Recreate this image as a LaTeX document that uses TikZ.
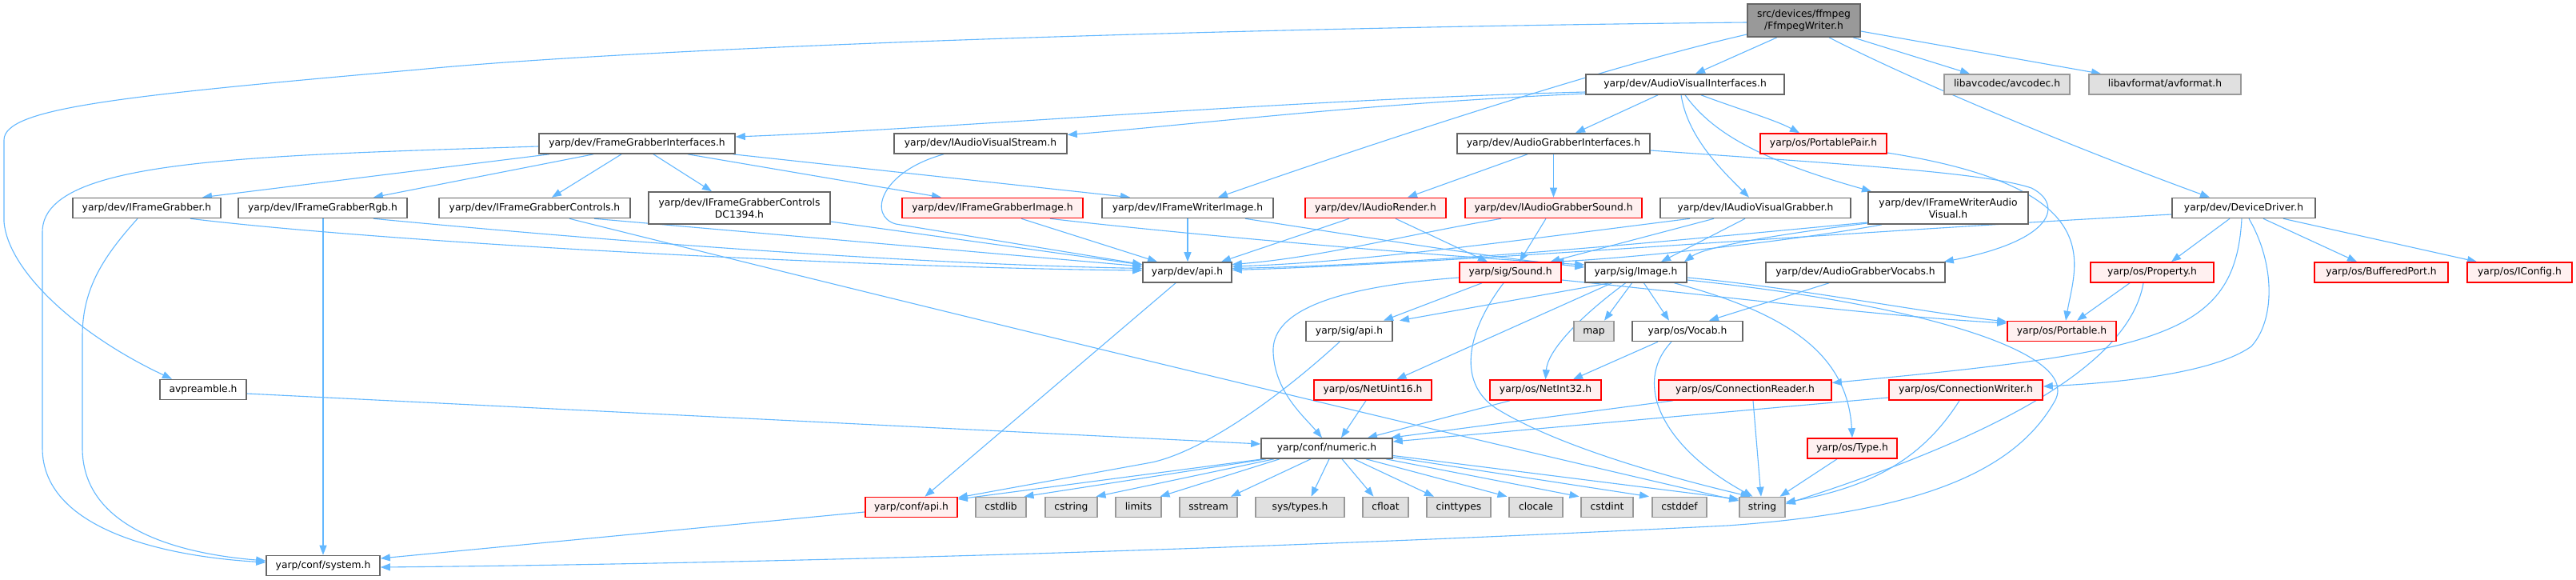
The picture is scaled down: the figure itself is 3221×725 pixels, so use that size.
\documentclass[tikz,border=0pt]{standalone}
\usepackage{fontspec}
\setmainfont{DejaVu Sans}
\usetikzlibrary{arrows.meta,calc}
\definecolor{edgec}{HTML}{63B8FF}
\definecolor{nborder}{HTML}{666666}
\definecolor{rborder}{HTML}{FF0000}
\definecolor{rfill}{HTML}{FFF0F0}
\definecolor{gfill}{HTML}{E0E0E0}
\definecolor{gborder}{HTML}{999999}
\definecolor{rootfill}{HTML}{999999}
\pgfdeclarelayer{back}
\pgfdeclarelayer{edges}
\pgfsetlayers{back,edges,main}
\begin{document}
\begin{tikzpicture}[x=1pt,y=-1pt,
 base2/.style={rectangle, inner sep=0pt, minimum height=25pt, font=\fontsize{12.3}{15}\selectfont, align=center, line width=1.6pt},
 base/.style={base2, text height=9.3pt, text depth=2.7pt},
 nw/.style={base, draw=nborder, fill=white},
 nw2/.style={base2, draw=nborder, fill=white, minimum height=40pt},
 nr/.style={base, draw=rborder, fill=rfill},
 ng/.style={base, draw=gborder, fill=gfill},
 nroot/.style={base2, draw=nborder, fill=rootfill, minimum height=41pt},
 edg/.style={draw=edgec, line width=1.1pt, -{Triangle[length=12pt,width=9pt]}}]
\useasboundingbox (0,0) rectangle (3221,725);
\begin{pgfonlayer}{back}
\fill[white] (0,0) rectangle (3221,725);
\end{pgfonlayer}
% nodes
\node[nroot, minimum width=141pt] (root) at (2255.5,25.5) {src/devices/ffmpeg\\/FfmpegWriter.h};
\node[nw, minimum width=248pt] (avi) at (2107,105.5) {yarp/dev/AudioVisualInterfaces.h};
\node[ng, minimum width=157pt] (avcodec) at (2509.5,105.5) {libavcodec/avcodec.h};
\node[ng, minimum width=190pt] (avformat) at (2707,105.5) {libavformat/avformat.h};
\node[nw, minimum width=245pt] (fgi) at (796.5,179.5) {yarp/dev/FrameGrabberInterfaces.h};
\node[nw, minimum width=216pt] (iavs) at (1226,179.5) {yarp/dev/IAudioVisualStream.h};
\node[nw, minimum width=241pt] (agi) at (1942.5,179.5) {yarp/dev/AudioGrabberInterfaces.h};
\node[nr, minimum width=158pt] (ppair) at (2280,179.5) {yarp/os/PortablePair.h};
\node[nw, minimum width=185pt] (ifg) at (183.5,260) {yarp/dev/IFrameGrabber.h};
\node[nw, minimum width=211pt] (ifgrgb) at (403.5,260) {yarp/dev/IFrameGrabberRgb.h};
\node[nw, minimum width=239pt] (ifgc) at (668.5,260) {yarp/dev/IFrameGrabberControls.h};
\node[nw2, minimum width=227pt] (ifgcdc) at (924.5,260) {yarp/dev/IFrameGrabberControls\\DC1394.h};
\node[nr, minimum width=226pt] (ifgimg) at (1241,260) {yarp/dev/IFrameGrabberImage.h};
\node[nw, minimum width=214pt] (ifwimg) at (1485,260) {yarp/dev/IFrameWriterImage.h};
\node[nr, minimum width=176pt] (iar) at (1720,260) {yarp/dev/IAudioRender.h};
\node[nr, minimum width=221pt] (iags) at (1942.5,260) {yarp/dev/IAudioGrabberSound.h};
\node[nw, minimum width=238pt] (iavg) at (2195,260) {yarp/dev/IAudioVisualGrabber.h};
\node[nw2, minimum width=200pt] (ifwav) at (2436,260) {yarp/dev/IFrameWriterAudio\\Visual.h};
\node[nw, minimum width=179pt] (dd) at (2805.5,260) {yarp/dev/DeviceDriver.h};
\node[nw, minimum width=111pt] (devapi) at (1484.5,340.5) {yarp/dev/api.h};
\node[nr, minimum width=127pt] (sound) at (1888.5,340.5) {yarp/sig/Sound.h};
\node[nw, minimum width=127pt] (image) at (2045.5,340.5) {yarp/sig/Image.h};
\node[nw, minimum width=224pt] (agv) at (2320,340.5) {yarp/dev/AudioGrabberVocabs.h};
\node[nr, minimum width=154pt] (prop) at (2691,340.5) {yarp/os/Property.h};
\node[nr, minimum width=167pt] (bport) at (2977.5,340.5) {yarp/os/BufferedPort.h};
\node[nr, minimum width=131pt] (iconfig) at (3150.5,340.5) {yarp/os/IConfig.h};
\node[nw, minimum width=108pt] (sigapi) at (1687,414) {yarp/sig/api.h};
\node[ng, minimum width=50pt] (map) at (1993,414) {map};
\node[nw, minimum width=138pt] (vocab) at (2110,414) {yarp/os/Vocab.h};
\node[nr, minimum width=136pt] (portable) at (2578,414) {yarp/os/Portable.h};
\node[nw, minimum width=108pt] (avpre) at (254,487) {avpreamble.h};
\node[nr, minimum width=147pt] (nuint16) at (1716.5,487.5) {yarp/os/NetUint16.h};
\node[nr, minimum width=139pt] (nint32) at (1932.5,487.5) {yarp/os/NetInt32.h};
\node[nr, minimum width=216pt] (creader) at (2182,487.5) {yarp/os/ConnectionReader.h};
\node[nr, minimum width=192pt] (cwriter) at (2458,487.5) {yarp/os/ConnectionWriter.h};
\node[nw, minimum width=164pt] (numeric) at (1659,560.5) {yarp/conf/numeric.h};
\node[nr, minimum width=112pt] (type) at (2316,560.5) {yarp/os/Type.h};
\node[nr, minimum width=115pt] (confapi) at (1139.5,634) {yarp/conf/api.h};
\node[ng, minimum width=63pt] (cstdlib) at (1251.5,634) {cstdlib};
\node[ng, minimum width=65pt] (cstring) at (1339.5,634) {cstring};
\node[ng, minimum width=57pt] (limits) at (1423.5,634) {limits};
\node[ng, minimum width=72pt] (sstream) at (1511,634) {sstream};
\node[ng, minimum width=111pt] (systypes) at (1625.5,634) {sys/types.h};
\node[ng, minimum width=57pt] (cfloat) at (1732.5,634) {cfloat};
\node[ng, minimum width=80pt] (cinttypes) at (1824,634) {cinttypes};
\node[ng, minimum width=67pt] (clocale) at (1920.5,634) {clocale};
\node[ng, minimum width=65pt] (cstdint) at (2009.5,634) {cstdint};
\node[ng, minimum width=68pt] (cstddef) at (2100,634) {cstddef};
\node[ng, minimum width=57pt] (string) at (2203.5,634) {string};
\node[nw, minimum width=142pt] (system) at (404,707) {yarp/conf/system.h};
% edges
\begin{pgfonlayer}{edges}
% root
\draw[edg] ([yshift=-2.5pt]root.west) .. controls (1500,35) and (800,60) .. (523,87) .. controls (150,120) and (5,135) .. (5,175) -- (5,277) .. controls (10,340) and (100,420) .. ([xshift=-39pt]avpre.north);
\draw[edg] ([yshift=-17.5pt]root.west) .. controls (2000,85) and (1700,185) .. ([xshift=38pt]ifwimg.north);
\draw[edg] ([xshift=-33.5pt]root.south) -- ([xshift=13pt]avi.north);
\draw[edg] ([xshift=61.5pt]root.south) -- ([xshift=-46.5pt]avcodec.north);
\draw[edg] ([yshift=-13.5pt]root.east) -- ([xshift=-80pt]avformat.north);
\draw[edg] ([xshift=31.5pt]root.south) .. controls (2380,95) and (2580,180) .. ([xshift=-42.5pt]dd.north);
% AudioVisualInterfaces
\draw[edg] ([yshift=-9.5pt]avi.west) .. controls (1600,125) and (1200,160) .. ([yshift=8.5pt]fgi.east);
\draw[edg] ([yshift=-11.5pt]avi.west) .. controls (1700,130) and (1500,155) .. ([yshift=11pt]iavs.east);
\draw[edg] ([xshift=-34pt]avi.south) -- ([xshift=27.5pt]agi.north);
\draw[edg] ([xshift=20pt]avi.south) .. controls (2170,135) and (2220,150) .. ([xshift=-30pt]ppair.north);
\draw[edg] ([xshift=-5pt]avi.south) .. controls (2110,170) and (2150,210) .. ([xshift=-8pt]iavg.north);
\draw[edg] (avi.south) .. controls (2140,165) and (2200,200) .. ([xshift=-96pt]ifwav.north);
% FrameGrabberInterfaces
\draw[edg] ([yshift=-3.5pt]fgi.west) .. controls (300,195) and (53,200) .. (53,290) -- (53,560) .. controls (53,660) and (200,695) .. ([yshift=4pt]system.west);
\draw[edg] ([xshift=-109.5pt]fgi.south) -- ([xshift=69.5pt]ifg.north);
\draw[edg] ([xshift=-54.5pt]fgi.south) -- ([xshift=63.5pt]ifgrgb.north);
\draw[edg] ([xshift=-19.5pt]fgi.south) -- ([xshift=21.5pt]ifgc.north);
\draw[edg] ([xshift=20.5pt]fgi.south) -- ([xshift=-34.5pt]ifgcdc.north);
\draw[edg] ([xshift=63.5pt]fgi.south) -- ([xshift=-64pt]ifgimg.north);
\draw[edg] ([xshift=120pt]fgi.south) -- ([xshift=-72pt]ifwimg.north);
% second row
\draw[edg] ([xshift=-46pt]iavs.south) .. controls (1100,215) and (1085,270) .. (1120,280) -- ([yshift=10pt]devapi.west);
\draw[edg] ([xshift=-11.5pt]ifg.south) .. controls (130,320) and (103,360) .. (103,420) -- (103,560) .. controls (103,650) and (200,690) .. ([yshift=6pt]system.west);
\draw[edg] ([xshift=54.5pt]ifg.south) .. controls (500,305) and (1100,335) .. ([yshift=2.5pt]devapi.west);
\draw[edg] ([xshift=0.5pt]ifgrgb.south) -- (system.north);
\draw[edg] ([xshift=63.5pt]ifgrgb.south) .. controls (800,305) and (1150,330) .. ([yshift=5pt]devapi.west);
\draw[edg] ([xshift=74.5pt]ifgc.south) -- ([yshift=7.5pt]devapi.west);
\draw[edg] ([xshift=43.5pt]ifgc.south) .. controls (1200,395) and (1800,540) .. ([yshift=8pt]string.west);
\draw[edg] ([yshift=-17pt]ifgcdc.east) -- ([yshift=9.5pt]devapi.west);
\draw[edg] ([xshift=36pt]ifgimg.south) -- ([xshift=-37.5pt]devapi.north);
\draw[edg] ([xshift=72pt]ifgimg.south) .. controls (1500,295) and (1800,320) .. ([yshift=9.5pt]image.west);
\draw[edg] (ifwimg.south) -- ([xshift=0.5pt]devapi.north);
\draw[edg] ([xshift=72pt]ifwimg.south) .. controls (1700,295) and (1850,320) .. ([yshift=6.5pt]image.west);
\draw[edg] ([xshift=-33pt]iar.south) -- ([xshift=42.5pt]devapi.north);
\draw[edg] ([xshift=25pt]iar.south) -- ([xshift=-28.5pt]sound.north);
\draw[edg] ([xshift=-65.5pt]iags.south) .. controls (1750,295) and (1650,322) .. ([yshift=10pt]devapi.east);
\draw[edg] ([xshift=-9.5pt]iags.south) -- ([xshift=11.5pt]sound.north);
\draw[edg] ([xshift=-82pt]iavg.south) .. controls (1900,300) and (1700,328) .. ([yshift=7.5pt]devapi.east);
\draw[edg] ([xshift=-13pt]iavg.south) -- ([xshift=31.5pt]image.north);
\draw[edg] ([xshift=-52pt]iavg.south) -- ([xshift=50pt]sound.north);
\draw[edg] ([yshift=-18pt]ifwav.west) .. controls (2100,300) and (1800,330) .. ([yshift=5pt]devapi.east);
\draw[edg] ([yshift=-19pt]ifwav.west) .. controls (2200,296) and (2130,310) .. ([xshift=60.5pt]image.north);
\draw[edg] ([xshift=-83pt]ifwav.south) .. controls (2250,300) and (2050,322) .. ([xshift=55pt]sound.north);
\draw[edg] ([yshift=-8pt]dd.west) .. controls (2300,290) and (1800,330) .. ([yshift=3pt]devapi.east);
% AudioGrabberInterfaces, PortablePair, AudioGrabberVocabs
\draw[edg] ([xshift=-32.5pt]agi.south) -- ([xshift=40pt]iar.north);
\draw[edg] (agi.south) -- (iags.north);
\draw[edg] ([yshift=-8.5pt]agi.east) .. controls (2300,205) and (2480,215) .. (2540,235) .. controls (2580,255) and (2570,300) .. ([xshift=-2pt]agv.north east);
\draw[edg] ([yshift=-11.5pt]ppair.east) .. controls (2640,235) and (2595,330) .. ([xshift=5pt]portable.north);
\draw[edg] ([xshift=-33pt]agv.south) -- ([xshift=27pt]vocab.north);
% Sound
\draw[edg] ([xshift=-35.5pt]sound.south) -- ([xshift=43pt]sigapi.north);
\draw[edg] ([yshift=-6.5pt]sound.west) .. controls (1650,360) and (1590,395) .. (1592,440) .. controls (1594,490) and (1630,520) .. ([xshift=-6pt]numeric.north);
\draw[edg] ([xshift=-8.5pt]sound.south) .. controls (1830,420) and (1825,480) .. (1870,510) .. controls (1950,560) and (2100,600) .. ([xshift=-15pt]string.north);
\draw[edg] ([yshift=-9.5pt]sound.east) .. controls (2150,370) and (2350,395) .. ([yshift=10pt]portable.west);
% Image
\draw[edg] ([xshift=-33pt]image.south) -- ([xshift=63pt]sigapi.north);
\draw[edg] ([xshift=-30pt]image.south) -- ([xshift=30pt]nuint16.north);
\draw[edg] ([xshift=-13pt]image.south) .. controls (1970,400) and (1935,440) .. (nint32.north);
\draw[edg] ([xshift=-5pt]image.south) -- ([xshift=13pt]map.north);
\draw[edg] ([xshift=10pt]image.south) -- ([xshift=-23pt]vocab.north);
\draw[edg] ([xshift=48pt]image.south) .. controls (2230,390) and (2310,440) .. (type.north);
\draw[edg] ([yshift=-6.5pt]image.east) .. controls (2250,360) and (2400,390) .. ([yshift=12pt]portable.west);
\draw[edg] ([yshift=-9.5pt]image.east) .. controls (2400,380) and (2600,440) .. (2570,500) .. controls (2520,590) and (2400,640) .. (2160,657) .. controls (1500,690) and (900,705) .. ([yshift=-2pt]system.east);
% Vocab, sig/api
\draw[edg] ([xshift=-37pt]vocab.south) -- ([xshift=34.5pt]nint32.north);
\draw[edg] ([xshift=-20pt]vocab.south) .. controls (2040,480) and (2080,560) .. ([xshift=-12pt]string.north);
\draw[edg] ([xshift=-12pt]sigapi.south) .. controls (1590,505) and (1500,565) .. (1440,578) -- ([yshift=12pt]confapi.east);
% numeric
\draw[edg] ([xshift=-80pt]numeric.south) -- ([yshift=10pt]confapi.east);
\draw[edg] ([xshift=-76pt]numeric.south) -- ([xshift=29pt]cstdlib.north);
\draw[edg] ([xshift=-66pt]numeric.south) -- ([xshift=31pt]cstring.north);
\draw[edg] ([xshift=-59pt]numeric.south) -- ([xshift=27pt]limits.north);
\draw[edg] ([xshift=-20pt]numeric.south) -- ([xshift=28pt]sstream.north);
\draw[edg] ([xshift=3pt]numeric.south) -- ([xshift=14pt]systypes.north);
\draw[edg] ([xshift=19pt]numeric.south) -- ([xshift=-15pt]cfloat.north);
\draw[edg] ([xshift=34pt]numeric.south) -- ([xshift=-31pt]cinttypes.north);
\draw[edg] ([xshift=49pt]numeric.south) -- ([xshift=-36pt]clocale.north);
\draw[edg] ([xshift=74pt]numeric.south) -- ([xshift=-35pt]cstdint.north);
\draw[edg] ([yshift=-11pt]numeric.east) -- ([xshift=-38pt]cstddef.north);
\draw[edg] ([yshift=-9pt]numeric.east) -- ([yshift=10pt]string.west);
% into numeric / string
\draw[edg] ([xshift=-8.5pt]nuint16.south) -- ([xshift=18pt]numeric.north);
\draw[edg] ([xshift=-44.5pt]nint32.south) -- ([xshift=51pt]numeric.north);
\draw[edg] ([xshift=-90pt]creader.south) -- ([xshift=80pt]numeric.north);
\draw[edg] ([yshift=-9.5pt]cwriter.west) -- ([yshift=8.5pt]numeric.east);
\draw[edg] ([xshift=10pt]creader.south) -- ([xshift=-1.5pt]string.north);
\draw[edg] ([xshift=-8pt]cwriter.south) .. controls (2400,580) and (2330,610) .. ([yshift=6pt]string.east);
\draw[edg] ([xshift=-19pt]type.south) -- ([xshift=22pt]string.north);
% Property, DeviceDriver
\draw[edg] ([xshift=-28pt]prop.south) -- ([xshift=19pt]portable.north);
\draw[edg] ([xshift=-11pt]prop.south) .. controls (2660,470) and (2450,560) .. ([yshift=4pt]string.east);
\draw[edg] ([xshift=-17.5pt]dd.south) -- ([xshift=24pt]prop.north);
\draw[edg] ([xshift=-2.5pt]dd.south) .. controls (2795,420) and (2700,440) .. ([yshift=9pt]creader.east);
\draw[edg] ([xshift=6.5pt]dd.south) .. controls (2845,330) and (2845,400) .. (2815,433) .. controls (2770,465) and (2660,478) .. ([yshift=4.5pt]cwriter.east);
\draw[edg] ([xshift=24.5pt]dd.south) -- ([xshift=-30.5pt]bport.north);
\draw[edg] ([xshift=49.5pt]dd.south) -- ([xshift=-53.5pt]iconfig.north);
% api headers, avpreamble
\draw[edg] ([yshift=-6pt]confapi.west) -- ([yshift=9pt]system.east);
\draw[edg] ([xshift=-14.5pt]devapi.south) -- ([xshift=17pt]confapi.north);
\draw[edg] ([yshift=-5pt]avpre.east) -- ([yshift=5.5pt]numeric.west);
\end{pgfonlayer}
\end{tikzpicture}
\end{document}
